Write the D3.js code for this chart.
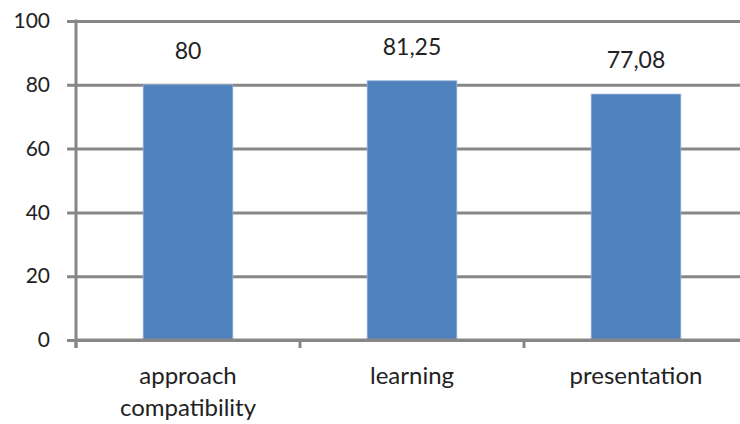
<!DOCTYPE html>
<html>
<head>
  <script src="https://cdn.jsdelivr.net/npm/d3@7"></script>
  <style>
    body { margin: 0; background: #fff; }
    text { font-family: Lato, "Open Sans", sans-serif; fill: #222; }
  </style>
</head>
<body>
  <svg id="chart" width="740" height="424"></svg>
  <script>
    const categories = [['approach', 'compatibility'], ['learning'], ['presentation']];
    const values = [80, 81.25, 77.08];
    const valueLabels = ['80', '81,25', '77,08'];
    const yTicks = [0, 20, 40, 60, 80, 100];

    const svg = d3.select('#chart');
    const plotLeft = 76, plotRight = 748, plotTop = 21, plotBottom = 340;
    const keys = categories.map(c => c.join(' '));

    const xScale = d3.scaleBand().domain(keys).range([plotLeft, plotRight])
      .paddingInner(0.6).paddingOuter(0.3);
    const yScale = d3.scaleLinear().domain([0, 100]).range([plotBottom, plotTop]);
    const grey = '#878787';

    // gridlines + y axis
    const yAxis = d3.axisLeft(yScale).tickValues(yTicks)
      .tickSize(-(plotRight - plotLeft)).tickPadding(26);
    const yg = svg.append('g').attr('transform', `translate(${plotLeft},0)`).call(yAxis);
    yg.select('.domain').remove();
    yg.selectAll('.tick line').attr('stroke', grey).attr('stroke-width', 3).attr('x1', -9);
    yg.selectAll('.tick text').attr('font-size', 21).attr('fill', '#222')
      .attr('font-family', 'Lato, sans-serif');

    svg.append('line').attr('x1', plotLeft).attr('x2', plotLeft)
      .attr('y1', plotTop - 1.5).attr('y2', plotBottom + 8)
      .attr('stroke', grey).attr('stroke-width', 3);

    // bars
    svg.selectAll('.bar').data(values).join('rect')
      .attr('class', 'bar')
      .attr('x', (d, i) => xScale(keys[i]))
      .attr('width', xScale.bandwidth())
      .attr('y', d => yScale(d))
      .attr('height', d => yScale(0) - yScale(d))
      .attr('fill', '#4f81bd')
      .attr('stroke', '#8eaedb').attr('stroke-width', 0.8);

    // x axis line + ticks
    svg.append('line').attr('x1', plotLeft).attr('x2', plotRight)
      .attr('y1', plotBottom).attr('y2', plotBottom)
      .attr('stroke', grey).attr('stroke-width', 3);
    const step = xScale.step();
    const tickPos = d3.range(keys.length + 1).map(i => plotLeft + i * step);
    svg.selectAll('.xtick').data(tickPos).join('line')
      .attr('x1', d => d).attr('x2', d => d)
      .attr('y1', plotBottom).attr('y2', plotBottom + 8)
      .attr('stroke', grey).attr('stroke-width', 3);

    // value labels
    svg.selectAll('.val').data(values).join('text')
      .attr('x', (d, i) => xScale(keys[i]) + xScale.bandwidth() / 2)
      .attr('y', d => yScale(d) - 26)
      .attr('text-anchor', 'middle').attr('font-size', 23)
      .text((d, i) => valueLabels[i]);

    // category labels
    svg.selectAll('.cat').data(categories).join('text')
      .attr('x', (d, i) => xScale(keys[i]) + xScale.bandwidth() / 2)
      .attr('y', 384)
      .attr('text-anchor', 'middle').attr('font-size', 24)
      .selectAll('tspan').data(d => d).join('tspan')
      .attr('x', function () { return this.parentNode.getAttribute('x'); })
      .attr('dy', (d, i) => i === 0 ? 0 : 32)
      .text(d => d);
  </script>
</body>
</html>
